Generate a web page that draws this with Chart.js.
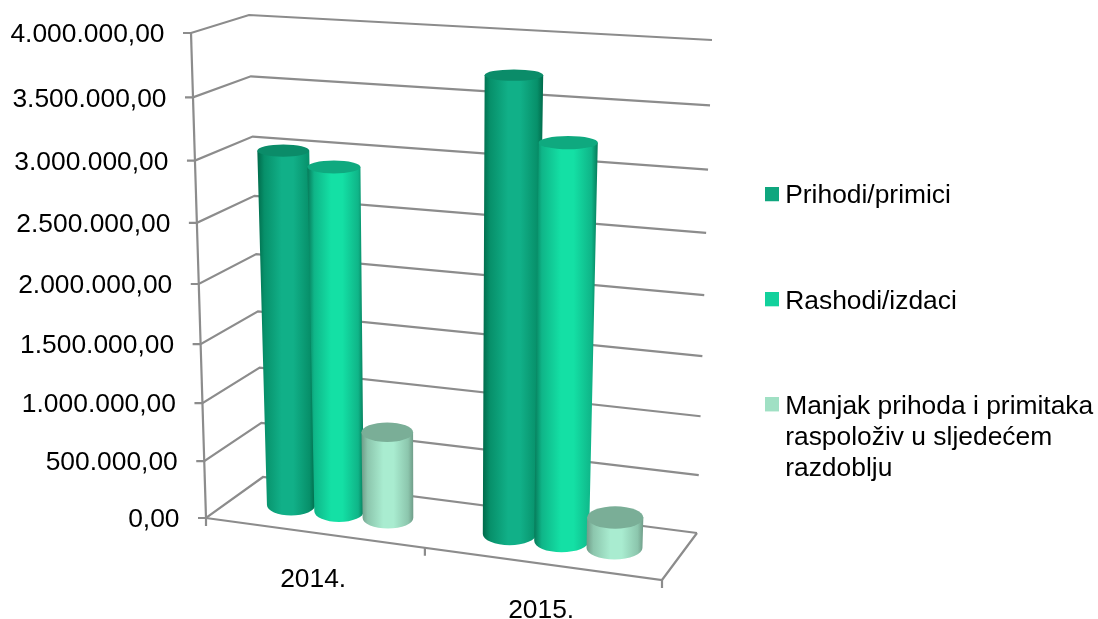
<!DOCTYPE html>
<html>
<head>
<meta charset="utf-8">
<title>Prihodi i rashodi</title>
<script src="https://cdn.jsdelivr.net/npm/chart.js@4/dist/chart.umd.js"></script>
<style>
  html, body { margin: 0; padding: 0; background: #fff; }
  canvas { display: block; }
</style>
</head>
<body>
<canvas id="myChart" width="1098" height="619"></canvas>
<script>
var categories = ['2014.', '2015.'];
var seriesNames = ['Prihodi/primici', 'Rashodi/izdaci', ['Manjak prihoda i primitaka', 'raspoloživ u sljedećem', 'razdoblju']];
var prihodi = [3020000, 3740000];
var rashodi = [2920000, 3250000];
var manjak = [750000, 260000];
var yTickLabels = ['0,00', '500.000,00', '1.000.000,00', '1.500.000,00', '2.000.000,00', '2.500.000,00', '3.000.000,00', '3.500.000,00', '4.000.000,00'];

// colours: edge of the cylinder, shoulder, middle of the cylinder, top cap, legend
var seriesStyles = [
    { edge: '#006a4a', side: '#07906a', mid: '#11b088', top: '#0b8c69', legend: '#0fa67e' },
    { edge: '#067a59', side: '#0fb588', mid: '#14e0a5', top: '#0fa97f', legend: '#12d19c' },
    { edge: '#6f9c88', side: '#8cc6ad', mid: '#a9ecd0', top: '#7aae97', legend: '#a0e0c4' }
];

var FONT = { family: '"Liberation Sans", Arial, sans-serif', size: 26.4 };
var GRID_COLOR = '#8c8c8c';

// corners of the 3D box as it appears in the picture [x, y]
var box = {
    fl0: [206, 518], fr0: [662, 580], bl0: [263, 477], br0: [697, 533],
    fl1: [191, 33], fr1: [680, 63], bl1: [249, 15], br1: [712, 40]
};
var WARP_X = -0.08;   // foreshortening along the category axis
var WARP_Y = -0.07;   // foreshortening along the value axis
var MID_DEPTH = 0.5;  // bars stand halfway between front and back

function lerp(a, b, t) { return a + (b - a) * t; }

// u along categories, d from front to back, f up the value axis (all 0..1)
function project(u, d, f) {
    var w = u + WARP_X * u * (1 - u);
    var pt = [0, 1].map(function (i) {
        var bottom = lerp(lerp(box.fl0[i], box.fr0[i], w), lerp(box.bl0[i], box.br0[i], w), d);
        var top = lerp(lerp(box.fl1[i], box.fr1[i], w), lerp(box.bl1[i], box.br1[i], w), d);
        return lerp(bottom, top, f);
    });
    return { x: pt[0], y: pt[1] };
}

// value axis with the perspective spacing of the ticks, labels follow the slanted axis
class SlantedLinearScale extends Chart.LinearScale {
    static id = 'slantedLinear';
    static defaults = Chart.LinearScale.defaults;
    getPixelForValue(value) {
        var t = (value - this.min) / (this.max - this.min);
        return this.getPixelForDecimal(t + WARP_Y * t * (1 - t));
    }
    _computeLabelItems(chartArea) {
        var items = super._computeLabelItems(chartArea);
        var self = this;
        items.forEach(function (item, i) {
            var y = self.getPixelForTick(i);
            var f = (self.bottom - y) / self.height;
            item.options.translation = [project(0, 0, f).x - 26.5, project(0, 0, f).y + 2];
        });
        return items;
    }
}

// category axis, labels run down along the front edge of the floor
class SlantedCategoryScale extends Chart.CategoryScale {
    static id = 'slantedCategory';
    static defaults = Chart.CategoryScale.defaults;
    _computeLabelItems(chartArea) {
        var items = super._computeLabelItems(chartArea);
        var self = this;
        items.forEach(function (item, i) {
            var u = (self.getPixelForTick(i) - self.left) / self.width;
            var p = project(u, 0, 0);
            item.options.translation = [p.x, p.y + 47];
            item.options.textBaseline = 'middle';
            item.textOffset = 0;
        });
        return items;
    }
}

Chart.register(SlantedLinearScale, SlantedCategoryScale);

function line(ctx, points) {
    ctx.beginPath();
    points.forEach(function (p, i) {
        if (i === 0) { ctx.moveTo(p.x, p.y); } else { ctx.lineTo(p.x, p.y); }
    });
    ctx.stroke();
}

function drawBox(chart) {
    var ctx = chart.ctx;
    var yScale = chart.scales.y;
    ctx.save();
    ctx.strokeStyle = GRID_COLOR;
    ctx.lineWidth = 2.2;

    // grid lines: tick, side wall, back wall
    yScale.ticks.forEach(function (tick, i) {
        var f = (yScale.bottom - yScale.getPixelForTick(i)) / yScale.height;
        var front = project(0, 0, f);
        line(ctx, [{ x: front.x - 8, y: front.y }, front, project(0, 1, f), project(1, 1, f)]);
    });

    // value axis and floor
    line(ctx, [project(0, 0, 0), project(0, 0, 1)]);
    line(ctx, [project(0, 0, 0), project(1, 0, 0), project(1, 1, 0)]);

    // small ticks between the categories
    [0, 0.5, 1].forEach(function (u) {
        var p = project(u, 0, 0);
        line(ctx, [p, { x: p.x, y: p.y + 8 }]);
    });
    ctx.restore();
}

function drawCylinder(chart, bar, style) {
    var ctx = chart.ctx;
    var xScale = chart.scales.x;
    var yScale = chart.scales.y;
    var u = (bar.x - xScale.left) / xScale.width;
    var f = (yScale.bottom - bar.y) / yScale.height;
    // cylinders get a little wider to the right and to the top
    var w = bar.width / xScale.width * 460 / 2 * (1 + 0.2 * (u - 0.5));
    var base = project(u, MID_DEPTH, 0);
    var top = project(u, MID_DEPTH, f);
    var rxBase = w;
    var rxTop = w * (1 + 0.1 * f);
    var ryBase = 0.25 * (project(u, 0, 0).y - project(u, 1, 0).y);
    var ryTop = 0.25 * (project(u, 0, f).y - project(u, 1, f).y);

    var left = Math.min(base.x - rxBase, top.x - rxTop);
    var right = Math.max(base.x + rxBase, top.x + rxTop);
    var grad = ctx.createLinearGradient(left, 0, right, 0);
    grad.addColorStop(0, style.edge);
    grad.addColorStop(0.12, style.side);
    grad.addColorStop(0.42, style.mid);
    grad.addColorStop(0.62, style.mid);
    grad.addColorStop(0.9, style.side);
    grad.addColorStop(1, style.edge);

    ctx.save();
    ctx.fillStyle = grad;
    ctx.beginPath();
    ctx.moveTo(top.x - rxTop, top.y);
    ctx.lineTo(base.x - rxBase, base.y);
    ctx.ellipse(base.x, base.y, rxBase, ryBase, 0, Math.PI, 0, true);
    ctx.lineTo(top.x + rxTop, top.y);
    ctx.closePath();
    ctx.fill();

    ctx.fillStyle = style.top;
    ctx.beginPath();
    ctx.ellipse(top.x, top.y, rxTop, ryTop, 0, 0, Math.PI * 2);
    ctx.fill();
    ctx.restore();
}

// draws the walls and cylinders from the bar elements the library has laid out
var cylinderPlugin = {
    id: 'cylinders',
    afterLayout: function (chart) {
        // legend sits by hand next to the box, not against the right edge
        var legend = chart.legend;
        var pad = legend.options.labels.padding;
        legend.left = 772 - pad;
        legend.right = 1098;
        legend.top = 183 - pad;
        legend.bottom = 619;
    },
    beforeDatasetsDraw: function (chart) {
        drawBox(chart);
        chart.data.datasets.forEach(function (ds, i) {
            chart.getDatasetMeta(i).data.forEach(function (bar) {
                drawCylinder(chart, bar, seriesStyles[i]);
            });
        });
    },
    beforeDatasetDraw: function () {
        return false;
    }
};

// square legend marker, drawn as an image so the text sits close to it
function legendSwatch(color) {
    var c = document.createElement('canvas');
    c.width = 14;
    c.height = 18;
    var g = c.getContext('2d');
    g.fillStyle = color;
    g.fillRect(0, 0, 14, 14);
    return c;
}

var seriesValues = [prihodi, rashodi, manjak];

new Chart(document.getElementById('myChart'), {
    type: 'bar',
    data: {
        labels: categories,
        datasets: seriesValues.map(function (values, i) {
            return { label: seriesNames[i], data: values, backgroundColor: seriesStyles[i].legend };
        })
    },
    options: {
        responsive: false,
        animation: false,
        events: [],
        layout: { padding: { top: 33 } },
        datasets: { bar: { categoryPercentage: 0.68, barPercentage: 1 } },
        scales: {
            x: {
                type: 'slantedCategory',
                grid: { display: false },
                border: { display: false },
                ticks: { color: '#000', font: FONT, autoSkip: false, maxRotation: 0 },
                afterFit: function (scale) { scale.height = 101; }
            },
            y: {
                type: 'slantedLinear',
                min: 0,
                max: 4000000,
                grid: { display: false },
                border: { display: false },
                ticks: {
                    color: '#000',
                    font: FONT,
                    stepSize: 500000,
                    callback: function (value, index) { return yTickLabels[index]; }
                },
                afterFit: function (scale) { scale.width = 206; }
            }
        },
        plugins: {
            tooltip: { enabled: false },
            legend: {
                position: 'right',
                align: 'start',
                labels: {
                    color: '#000',
                    font: { family: FONT.family, size: 26.4, lineHeight: 1.18 },
                    padding: 78.7,
                    boxHeight: 14,
                    usePointStyle: true,
                    pointStyleWidth: 0.01,
                    generateLabels: function (chart) {
                        return Chart.defaults.plugins.legend.labels.generateLabels(chart).map(function (item) {
                            item.pointStyle = legendSwatch(item.fillStyle);
                            return item;
                        });
                    }
                }
            }
        }
    },
    plugins: [cylinderPlugin]
});
</script>
</body>
</html>
